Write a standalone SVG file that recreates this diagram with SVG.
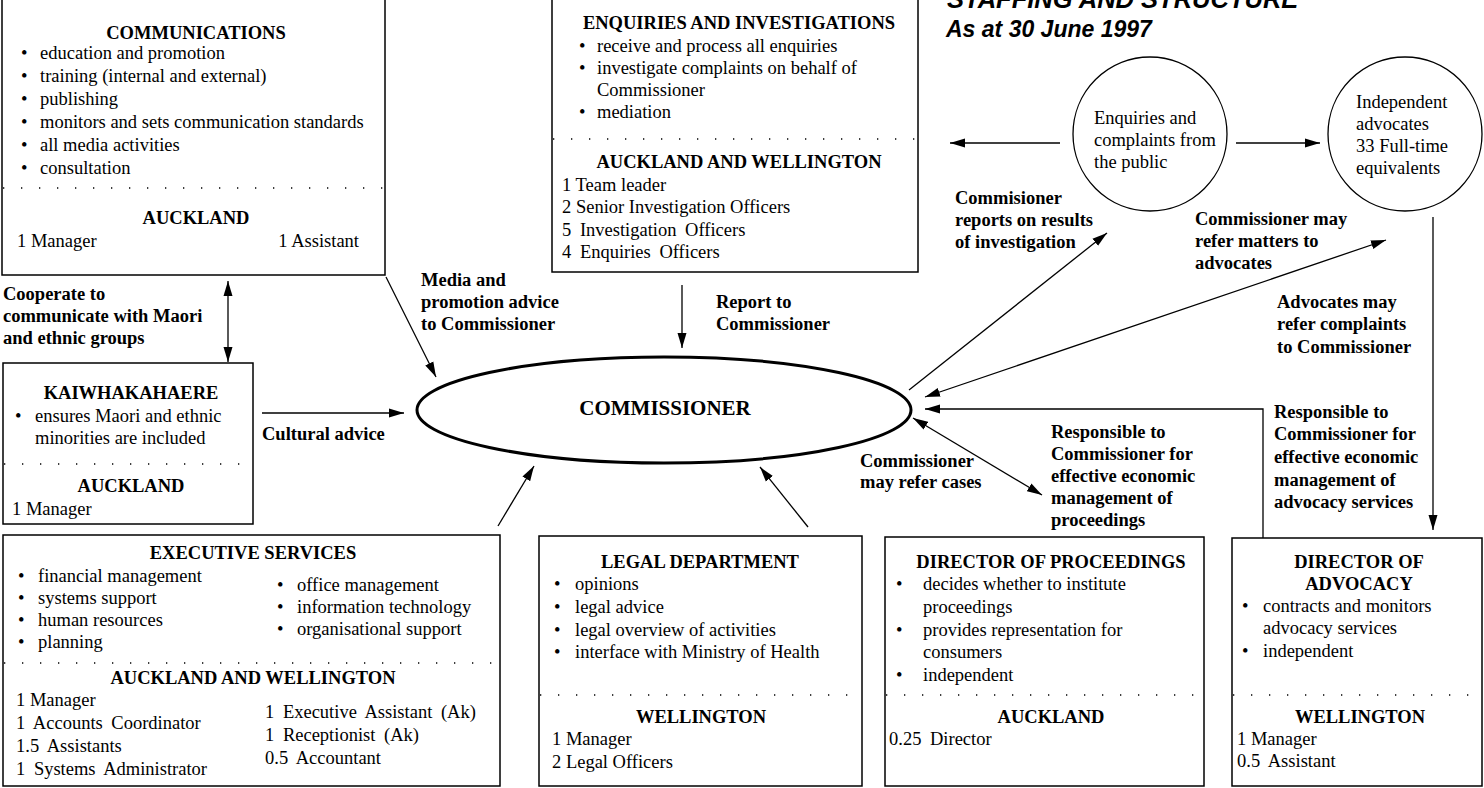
<svg xmlns="http://www.w3.org/2000/svg" width="1484" height="788" viewBox="0 0 1484 788">
<defs>
<marker id="ah" markerUnits="userSpaceOnUse" markerWidth="16" markerHeight="10" refX="15" refY="5" orient="auto-start-reverse"><path d="M0,0.5 L15,5 L0,9.5 z" fill="#000"/></marker>
<style>
.box{fill:#fff;stroke:#000;stroke-width:1.5}
.dot{stroke:#000;stroke-width:1.3;stroke-dasharray:1.3 16.7;fill:none}
.t{font-family:"Liberation Serif","Times New Roman",serif;font-size:18.5px;fill:#000}
.b{font-family:"Liberation Serif","Times New Roman",serif;font-size:18.5px;font-weight:bold;fill:#000}
.c{text-anchor:middle}
.w{word-spacing:4px}
.ttl{font-family:"Liberation Sans",Arial,sans-serif;font-size:23px;font-weight:bold;font-style:italic;fill:#000}
.con{stroke:#000;stroke-width:1.3;fill:none;marker-end:url(#ah)}
.dbl{marker-start:url(#ah)}
</style>
</defs>
<rect width="1484" height="788" fill="#fff"/>

<g id="title">
<text class="ttl" x="947" y="8" style="font-size:25.5px">STAFFING AND STRUCTURE</text>
<text class="ttl" x="946" y="37">As at 30 June 1997</text>
</g>

<g id="communications">
<rect class="box" x="2" y="-1" width="383" height="276"/>
<text class="b c" x="196" y="39">COMMUNICATIONS</text>
<text class="t" x="21" y="59">•</text><text class="t" x="40" y="59">education and promotion</text>
<text class="t" x="21" y="82">•</text><text class="t" x="40" y="82">training (internal and external)</text>
<text class="t" x="21" y="105">•</text><text class="t" x="40" y="105">publishing</text>
<text class="t" x="21" y="128">•</text><text class="t" x="40" y="128">monitors and sets communication standards</text>
<text class="t" x="21" y="151">•</text><text class="t" x="40" y="151">all media activities</text>
<text class="t" x="21" y="174">•</text><text class="t" x="40" y="174">consultation</text>
<line class="dot" x1="3" y1="188" x2="385" y2="188"/>
<text class="b c" x="196" y="224">AUCKLAND</text>
<text class="t" x="17" y="247">1 Manager</text>
<text class="t" x="359" y="247" text-anchor="end">1 Assistant</text>
</g>

<g id="enquiries">
<rect class="box" x="552" y="-1" width="366" height="273"/>
<text class="b c" x="739" y="29">ENQUIRIES AND INVESTIGATIONS</text>
<text class="t" x="579" y="52">•</text><text class="t" x="597" y="52">receive and process all enquiries</text>
<text class="t" x="579" y="74">•</text><text class="t" x="597" y="74">investigate complaints on behalf of</text>
<text class="t" x="597" y="96">Commissioner</text>
<text class="t" x="579" y="118">•</text><text class="t" x="597" y="118">mediation</text>
<line class="dot" x1="553" y1="139" x2="918" y2="139"/>
<text class="b c" x="739" y="168">AUCKLAND AND WELLINGTON</text>
<text class="t" x="562" y="191">1 Team leader</text>
<text class="t" x="562" y="213">2 Senior Investigation Officers</text>
<text class="t w" x="562" y="236">5 Investigation Officers</text>
<text class="t w" x="562" y="258">4 Enquiries Officers</text>
</g>

<g id="enquiries-public">
<circle cx="1150" cy="134" r="77" fill="#fff" stroke="#000" stroke-width="1.3"/>
<text class="t" x="1094" y="124">Enquiries and</text>
<text class="t" x="1094" y="146">complaints from</text>
<text class="t" x="1094" y="168">the public</text>
</g>

<g id="advocates">
<circle cx="1405" cy="134" r="77" fill="#fff" stroke="#000" stroke-width="1.3"/>
<text class="t" x="1356" y="108">Independent</text>
<text class="t" x="1356" y="130">advocates</text>
<text class="t" x="1356" y="152">33 Full-time</text>
<text class="t" x="1356" y="174">equivalents</text>
</g>

<g id="kaiwhakahaere">
<rect class="box" x="3" y="363" width="250" height="161"/>
<text class="b c" x="131" y="399">KAIWHAKAHAERE</text>
<text class="t" x="15" y="422">•</text><text class="t" x="35" y="422">ensures Maori and ethnic</text>
<text class="t" x="35" y="444">minorities are included</text>
<line class="dot" x1="4" y1="464" x2="253" y2="464"/>
<text class="b c" x="131" y="492">AUCKLAND</text>
<text class="t" x="12" y="515">1 Manager</text>
</g>

<g id="commissioner">
<ellipse cx="664" cy="410" rx="247" ry="53" fill="#fff" stroke="#000" stroke-width="3"/>
<text class="b c" x="665" y="415" style="font-size:21px">COMMISSIONER</text>
</g>

<g id="executive">
<rect class="box" x="3" y="535" width="497" height="251"/>
<text class="b c" x="253" y="559">EXECUTIVE SERVICES</text>
<text class="t" x="18" y="582">•</text><text class="t" x="38" y="582">financial management</text>
<text class="t" x="18" y="604">•</text><text class="t" x="38" y="604">systems support</text>
<text class="t" x="18" y="626">•</text><text class="t" x="38" y="626">human resources</text>
<text class="t" x="18" y="648">•</text><text class="t" x="38" y="648">planning</text>
<text class="t" x="277" y="591">•</text><text class="t" x="297" y="591">office management</text>
<text class="t" x="277" y="613">•</text><text class="t" x="297" y="613">information technology</text>
<text class="t" x="277" y="635">•</text><text class="t" x="297" y="635">organisational support</text>
<line class="dot" x1="4" y1="663" x2="500" y2="663"/>
<text class="b c" x="253" y="684">AUCKLAND AND WELLINGTON</text>
<text class="t" x="16" y="706">1 Manager</text>
<text class="t w" x="16" y="729">1 Accounts Coordinator</text>
<text class="t w" x="16" y="752">1.5 Assistants</text>
<text class="t w" x="16" y="775">1 Systems Administrator</text>
<text class="t w" x="265" y="718">1 Executive Assistant (Ak)</text>
<text class="t w" x="265" y="741">1 Receptionist (Ak)</text>
<text class="t w" x="265" y="764">0.5 Accountant</text>
</g>

<g id="legal">
<rect class="box" x="539" y="536" width="323" height="250"/>
<text class="b c" x="700" y="568">LEGAL DEPARTMENT</text>
<text class="t" x="554" y="590">•</text><text class="t" x="575" y="590">opinions</text>
<text class="t" x="554" y="613">•</text><text class="t" x="575" y="613">legal advice</text>
<text class="t" x="554" y="636">•</text><text class="t" x="575" y="636">legal overview of activities</text>
<text class="t" x="554" y="658">•</text><text class="t" x="575" y="658">interface with Ministry of Health</text>
<line class="dot" x1="540" y1="695" x2="862" y2="695"/>
<text class="b c" x="701" y="723">WELLINGTON</text>
<text class="t" x="552" y="745">1 Manager</text>
<text class="t" x="552" y="768">2 Legal Officers</text>
</g>

<g id="proceedings">
<rect class="box" x="885" y="537" width="319" height="249"/>
<text class="b c" x="1051" y="568">DIRECTOR OF PROCEEDINGS</text>
<text class="t" x="896" y="590">•</text><text class="t" x="923" y="590">decides whether to institute</text>
<text class="t" x="923" y="613">proceedings</text>
<text class="t" x="896" y="636">•</text><text class="t" x="923" y="636">provides representation for</text>
<text class="t" x="923" y="658">consumers</text>
<text class="t" x="896" y="681">•</text><text class="t" x="923" y="681">independent</text>
<line class="dot" x1="886" y1="695" x2="1204" y2="695"/>
<text class="b c" x="1051" y="723">AUCKLAND</text>
<text class="t w" x="889" y="745">0.25 Director</text>
</g>

<g id="advocacy">
<rect class="box" x="1232" y="538" width="250" height="248"/>
<text class="b c" x="1359" y="568">DIRECTOR OF</text>
<text class="b c" x="1359" y="590">ADVOCACY</text>
<text class="t" x="1242" y="612">•</text><text class="t" x="1263" y="612">contracts and monitors</text>
<text class="t" x="1263" y="634">advocacy services</text>
<text class="t" x="1242" y="657">•</text><text class="t" x="1263" y="657">independent</text>
<line class="dot" x1="1233" y1="695" x2="1482" y2="695"/>
<text class="b c" x="1360" y="723">WELLINGTON</text>
<text class="t" x="1237" y="745">1 Manager</text>
<text class="t w" x="1237" y="767">0.5 Assistant</text>
</g>

<g id="connectors">
<line class="con dbl" x1="228" y1="281" x2="228" y2="362"/>
<line class="con" x1="262" y1="413" x2="404" y2="413"/>
<line class="con" x1="386" y1="277" x2="436" y2="377"/>
<line class="con" x1="682" y1="285" x2="682" y2="348"/>
<line class="con" x1="498" y1="526" x2="534" y2="466"/>
<line class="con" x1="808" y1="527" x2="760" y2="467"/>
<line class="con" x1="909" y1="390" x2="1107" y2="233"/>
<line class="con" x1="1060" y1="143" x2="950" y2="143"/>
<line class="con" x1="1236" y1="143" x2="1320" y2="143"/>
<line class="con dbl" x1="925" y1="397" x2="1386" y2="240"/>
<line class="con" x1="1433" y1="217" x2="1433" y2="530"/>
<polyline class="con" points="1263,538 1263,409 925,409"/>
<line class="con dbl" x1="913" y1="418" x2="1042" y2="495"/>
</g>

<g id="labels">
<text class="b" x="3" y="300">Cooperate to</text>
<text class="b" x="3" y="322">communicate with Maori</text>
<text class="b" x="3" y="344">and ethnic groups</text>
<text class="b" x="421" y="286">Media and</text>
<text class="b" x="421" y="308">promotion advice</text>
<text class="b" x="421" y="330">to Commissioner</text>
<text class="b" x="716" y="308">Report to</text>
<text class="b" x="716" y="330">Commissioner</text>
<text class="b" x="262" y="440">Cultural advice</text>
<text class="b" x="955" y="204">Commisioner</text>
<text class="b" x="955" y="226">reports on results</text>
<text class="b" x="955" y="248">of investigation</text>
<text class="b" x="1195" y="225">Commissioner may</text>
<text class="b" x="1195" y="247">refer matters to</text>
<text class="b" x="1195" y="269">advocates</text>
<text class="b" x="1277" y="308">Advocates may</text>
<text class="b" x="1277" y="330">refer complaints</text>
<text class="b" x="1277" y="353">to Commissioner</text>
<text class="b" x="860" y="467">Commissioner</text>
<text class="b" x="860" y="488">may refer cases</text>
<text class="b" x="1051" y="438">Responsible to</text>
<text class="b" x="1051" y="460">Commissioner for</text>
<text class="b" x="1051" y="482">effective economic</text>
<text class="b" x="1051" y="504">management of</text>
<text class="b" x="1051" y="526">proceedings</text>
<text class="b" x="1274" y="418">Responsible to</text>
<text class="b" x="1274" y="440">Commissioner for</text>
<text class="b" x="1274" y="463">effective economic</text>
<text class="b" x="1274" y="486">management of</text>
<text class="b" x="1274" y="508">advocacy services</text>
</g>
</svg>
